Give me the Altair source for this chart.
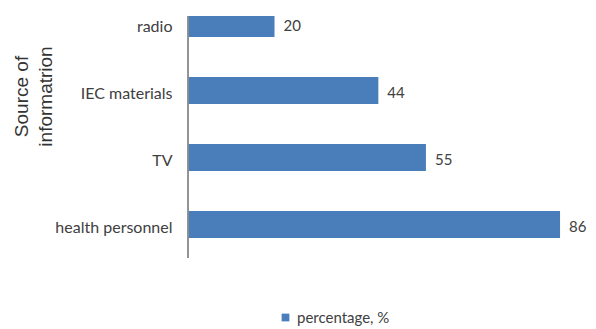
import altair as alt
import pandas as pd

categories = ["radio", "IEC materials", "TV", "health personnel"]
values = [20, 44, 55, 86]
series = ["percentage, %"] * 4

df = pd.DataFrame({"source": categories, "pct": values, "series": series})

W, H = 398, 242

y_enc = alt.Y(
    "source:N",
    sort=categories,
    scale=alt.Scale(domain=categories, range=[-26, 242], paddingInner=0.6, paddingOuter=0.3),
    axis=alt.Axis(
        title=["Source of", "informatrion"],
        titleFont="Liberation Sans",
        titleFontSize=19,
        titleFontWeight="normal",
        titleColor="#333333",
        titleAngle=-90,
        titleAlign="center",
        titleBaseline="top",
        titleX=-176,
        titleY=80,
        titleLineHeight=24,
        domain=False,
        ticks=False,
        labelPadding=16,
        labelOffset=3,
        labelFont="Lato",
        labelFontSize=16,
        labelColor="#404040",
    ),
)
x_enc = alt.X("pct:Q", scale=alt.Scale(domain=[0, 92]), axis=None)

bars = alt.Chart(df).mark_bar(clip=True).encode(
    x=x_enc,
    y=y_enc,
    color=alt.Color(
        "series:N",
        scale=alt.Scale(range=["#4A7EBB"]),
        legend=alt.Legend(
            title=None,
            orient="none",
            legendX=90,
            legendY=294,
            symbolType="square",
            symbolSize=60,
            labelFont="Lato",
            labelFontSize=15,
            labelColor="#404040",
            symbolStrokeWidth=0,
        ),
    ),
)

labels = alt.Chart(df).mark_text(
    align="left", baseline="middle", dx=9, dy=2, font="Lato", fontSize=15, color="#404040"
).encode(x=x_enc, y=alt.Y("source:N", sort=categories), text="pct:Q")

rule = alt.Chart(df).mark_rule(color="#8c8c8c", strokeWidth=1).encode(
    x=alt.value(0), y=alt.value(0), y2=alt.value(H)
)

chart = (
    alt.layer(bars, labels, rule)
    .properties(
        width=W,
        height=H,
        background="white",
        autosize=alt.AutoSizeParams(type="none"),
        padding={"left": 180, "top": 8, "right": 2, "bottom": 70},
    )
    .configure_view(strokeWidth=0, stroke=None)
)

chart.save("out.html", embed_options={"renderer": "svg", "actions": False})
